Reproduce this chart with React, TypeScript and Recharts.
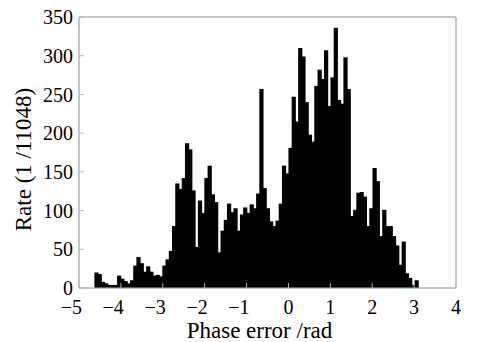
import React from 'react';
import { BarChart, Bar, XAxis, YAxis, ReferenceArea } from 'recharts';

// histogram bins: left edge of first bin and bin width (rad)
const BIN_START = -4.618;
const BIN_WIDTH = 0.0772;

const COUNTS = [
  20, 18, 8, 6, 4, 4, 4, 16, 12, 9,
  6, 10, 29, 40, 32, 21, 28, 21, 16, 17,
  15, 29, 37, 48, 80, 135, 128, 142, 187, 179,
  126, 53, 113, 97, 142, 158, 121, 111, 46, 74,
  88, 109, 98, 103, 74, 95, 104, 97, 108, 103,
  122, 257, 129, 103, 86, 80, 87, 109, 158, 148,
  181, 247, 215, 310, 299, 240, 198, 189, 261, 282,
  270, 307, 235, 272, 336, 243, 238, 298, 257, 93,
  101, 123, 124, 118, 80, 103, 155, 138, 67, 101,
  80, 80, 67, 55, 30, 60, 19, 13, 4, 10,
];

const X_TICKS = [-5, -4, -3, -2, -1, 0, 1, 2, 3, 4];
const Y_TICKS = [0, 50, 100, 150, 200, 250, 300, 350];

const data = COUNTS.map((v, i) => ({ x: BIN_START + BIN_WIDTH * (i + 0.5), rate: v }));

const FONT = '"Liberation Serif", "DejaVu Serif", serif';
const AXIS = '#b4b4b4';

// digit centred on the tick, minus sign hanging to the left
const XTick = (props: any) => {
  const { x, y, payload } = props;
  const v = payload.value as number;
  const label = v < 0 ? '\u2212' + Math.abs(v) : String(v);
  return (
    <text
      x={v < 0 ? x + 3 : x}
      y={y}
      dy={15}
      textAnchor={v < 0 ? 'end' : 'middle'}
      fill="#000"
      fontSize={20}
      fontFamily={FONT}
    >
      {label}
    </text>
  );
};

// bars drawn a little wider so neighbouring bins merge without seams
const HistBar = (props: any) => {
  const { x, y, width, height } = props;
  if (!height || height <= 0) return null;
  return <rect x={x - 0.6} y={y} width={width + 1.2} height={height} fill="#000" />;
};

export default function App() {
  return (
    <div style={{ position: 'absolute', left: 0, top: 0, background: '#fff' }}>
      <BarChart
        width={478}
        height={342}
        data={data}
        margin={{ top: 16, right: 21, left: 0, bottom: 0 }}
        barCategoryGap={0}
        barGap={0}
      >
        <XAxis
          dataKey="x"
          type="number"
          domain={[-5, 4]}
          ticks={X_TICKS}
          height={54}
          axisLine={{ stroke: AXIS }}
          tickLine={{ stroke: AXIS }}
          tickSize={-5}
          tickMargin={16}
          tick={<XTick />}
          interval={0}
          label={{
            value: 'Phase error /rad',
            position: 'insideBottom',
            offset: 4,
            dx: -8,
            fill: '#000',
            fontSize: 23,
            fontFamily: FONT,
          }}
        />
        <XAxis
          xAxisId="top"
          dataKey="x"
          type="number"
          orientation="top"
          domain={[-5, 4]}
          ticks={X_TICKS}
          height={1}
          axisLine={{ stroke: AXIS }}
          tickLine={{ stroke: AXIS }}
          tickSize={-5}
          tick={false}
          interval={0}
        />
        <YAxis
          domain={[0, 350]}
          ticks={Y_TICKS}
          width={79}
          axisLine={{ stroke: AXIS }}
          tickLine={{ stroke: AXIS }}
          tickSize={-5}
          tickMargin={11}
          interval={0}
          tick={{ fill: '#000', fontSize: 20, fontFamily: FONT }}
          label={{
            value: 'Rate (1 /11048)',
            angle: -90,
            position: 'center',
            dx: -17,
            dy: 7,
            fill: '#000',
            fontSize: 23,
            fontFamily: FONT,
          }}
        />
        <YAxis
          yAxisId="right"
          orientation="right"
          domain={[0, 350]}
          ticks={Y_TICKS}
          width={1}
          axisLine={{ stroke: AXIS }}
          tickLine={{ stroke: AXIS }}
          tickSize={-5}
          tick={false}
          interval={0}
        />
        <ReferenceArea
          x1={-5}
          x2={4}
          y1={0}
          y2={350}
          fill="none"
          stroke={AXIS}
          strokeWidth={1}
          ifOverflow="visible"
        />
        <Bar dataKey="rate" fill="#000" shape={<HistBar />} isAnimationActive={false} />
      </BarChart>
    </div>
  );
}
